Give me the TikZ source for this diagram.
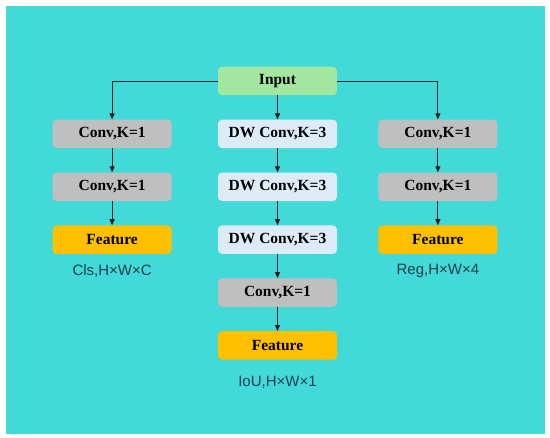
\documentclass[tikz,border=0pt]{standalone}
\usepackage{fontspec}
\setmainfont{Liberation Serif}
\setsansfont{Liberation Sans}
\usetikzlibrary{positioning,arrows.meta}

\definecolor{bgteal}{RGB}{66,217,217}
\definecolor{ingreen}{RGB}{163,230,160}
\definecolor{convgray}{RGB}{191,191,191}
\definecolor{dwblue}{RGB}{221,235,247}
\definecolor{featgold}{RGB}{255,192,0}
\definecolor{lbltext}{RGB}{30,62,72}
\definecolor{arrdark}{RGB}{15,35,40}

\begin{document}
\begin{tikzpicture}[x=1pt,y=1pt,
   box/.style={rounded corners=4pt, minimum width=119pt, minimum height=28.5pt,
      inner sep=0pt, font=\fontsize{15.5}{17}\selectfont\bfseries},
   conv/.style={box, fill=convgray},
   dwconv/.style={box, fill=dwblue},
   feat/.style={box, fill=featgold},
   lbl/.style={inner sep=0pt, text=lbltext, font=\sffamily\fontsize{15}{17}\selectfont},
   arr/.style={draw=arrdark, line width=0.9pt, -{Triangle[length=6pt,width=5pt]}},
   node distance=24pt]
      \useasboundingbox (0,0) rectangle (550,-438);
      \fill[white] (0,0) rectangle (550,-438);
      \fill[bgteal] (6,-6) rectangle (545,-434);

      \node[box, fill=ingreen, name=in] at (277.5,-81) {Input};

      % middle branch
      \node[dwconv, name=d1, below=of in] {DW Conv,K=3};
      \node[dwconv, name=d2, below=of d1] {DW Conv,K=3};
      \node[dwconv, name=d3, below=of d2] {DW Conv,K=3};
      \node[conv, name=d4, below=of d3] {Conv,K=1};
      \node[feat, name=df, below=of d4] {Feature};
      \node[lbl, name=dl, below=16pt of df] {IoU,H×W×1};

      % left branch
      \node[conv, name=l1, left=46pt of d1] {Conv,K=1};
      \node[conv, name=l2, below=of l1] {Conv,K=1};
      \node[feat, name=lf, below=of l2] {Feature};
      \node[lbl, name=ll, below=10pt of lf] {Cls,H×W×C};

      % right branch
      \node[conv, name=r1, right=41pt of d1] {Conv,K=1};
      \node[conv, name=r2, below=of r1] {Conv,K=1};
      \node[feat, name=rf, below=of r2] {Feature};
      \node[lbl, name=rl, below=10pt of rf] {Reg,H×W×4};

      \draw[arr] (in.west) -| (l1);
      \draw[arr] (in.east) -| (r1);
      \path[arr]
         (in) edge (d1)
         (d1) edge (d2)
         (d2) edge (d3)
         (d3) edge (d4)
         (d4) edge (df)
         (l1) edge (l2)
         (l2) edge (lf)
         (r1) edge (r2)
         (r2) edge (rf);
   \end{tikzpicture}
\end{document}
